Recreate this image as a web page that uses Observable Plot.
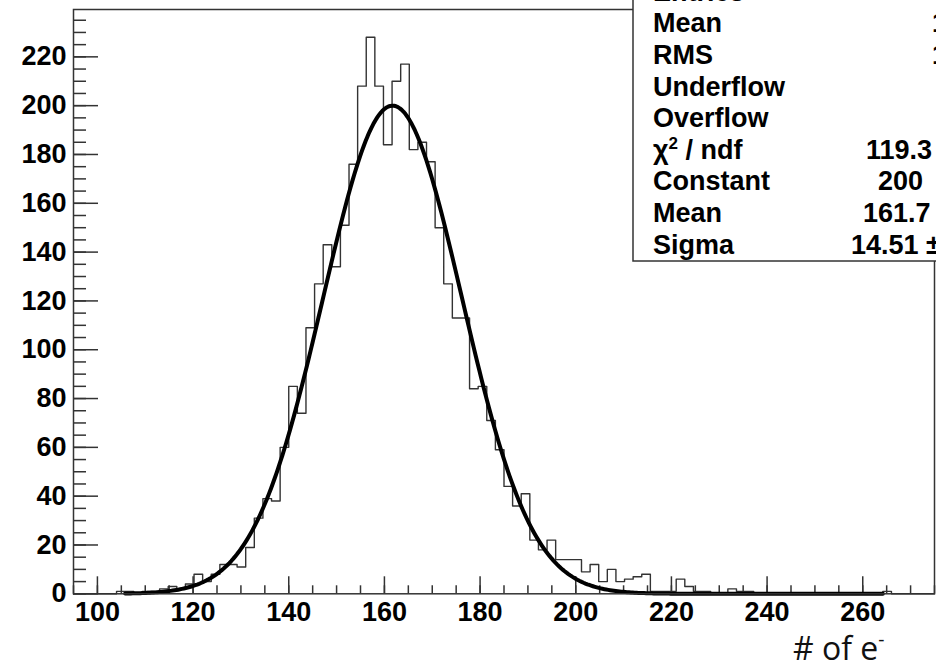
<!DOCTYPE html>
<html>
<head>
<meta charset="utf-8">
<script src="https://cdn.jsdelivr.net/npm/d3@7"></script>
<script src="https://cdn.jsdelivr.net/npm/@observablehq/plot@0.6"></script>
<style>
  body { margin: 0; background: #fff; }
  #wrap { position: relative; width: 936px; height: 667px; overflow: hidden; background: #fff; }
  #wrap svg { position: absolute; left: 0; top: 0; }
  #xtitle { position: absolute; left: 793px; top: 634px; font-family: "Open Sans", sans-serif; font-size: 32px; line-height: 28px; color: #111; white-space: nowrap; }
  #xtitle sup { font-size: 60%; vertical-align: 0.75em; line-height: 0; }
</style>
</head>
<body>
<div id="wrap"></div>
<script>
// ---- histogram definition (ROOT TH1: 100 bins from 95 to 275) ----
const histMin = 95;
const histMax = 275;
const binWidth = 1.8;
const counts = [
  0, 0, 0, 0, 0, 1, 1, 0, 1, 1,
  2, 3, 2, 4, 8, 5, 8, 12, 12, 11,
  19, 31, 39, 38, 60, 85, 74, 109, 127, 143,
  134, 151, 176, 208, 228, 208, 184, 210, 217, 182,
  185, 177, 150, 127, 113, 113, 84, 85, 71, 59,
  44, 36, 41, 22, 18, 22, 14, 14, 14, 9,
  12, 5, 10, 5, 6, 7, 8, 1, 1, 1,
  6, 3, 1, 1, 0, 0, 2, 1, 1, 0,
  0, 0, 0, 0, 0, 0, 0, 0, 0, 0,
  0, 0, 0, 0, 1, 0, 0, 0, 0, 0
];
const yMax = 239.4;

// ---- Gaussian fit parameters (from stats box) ----
const fitConstant = 200;
const fitMean = 161.7;
const fitSigma = 14.51;
const fitRange = [105.8, 264.2];

// ---- axis ticks ----
const xMajor = [100, 120, 140, 160, 180, 200, 220, 240, 260];
const xMinor = d3.range(95, 276, 5);
const yMajor = [0, 20, 40, 60, 80, 100, 120, 140, 160, 180, 200, 220];
const yMinor = d3.range(0, 240, 5);

// ---- stats box text ----
const statLabels = ["Entries", "Mean", "RMS", "Underflow", "Overflow", "χ² / ndf", "Constant", "Mean", "Sigma"];
const statValues = ["", "1", "1", "", "", "119.3", "200", "161.7", "14.51 ±"];

// build the step outline points at bin edges
const histPts = counts.map((c, i) => ({x: histMin + i * binWidth, y: c}));
histPts.push({x: histMin + counts.length * binWidth, y: counts[counts.length - 1]});

// fit curve samples
const nS = 400;
const fitPts = d3.range(nS + 1).map(i => {
  const x = fitRange[0] + (fitRange[1] - fitRange[0]) * i / nS;
  return {x, y: fitConstant * Math.exp(-0.5 * ((x - fitMean) / fitSigma) ** 2)};
});

const ink = "#333";
const chart = Plot.plot({
  width: 936,
  height: 667,
  marginLeft: 73,
  marginRight: 2,
  marginTop: 9,
  marginBottom: 73.7,
  style: {fontFamily: "'Liberation Sans', Arial, sans-serif", fontSize: "27px", fontWeight: "bold", color: "#000", background: "transparent"},
  x: {domain: [histMin, histMax], label: null},
  y: {domain: [0, yMax], label: null},
  marks: [
    Plot.axisY(yMinor, {tickSize: -13, text: null, stroke: ink, strokeWidth: 1.5, label: null}),
    Plot.axisY(yMajor, {tickSize: -25, text: null, stroke: ink, strokeWidth: 1.5, label: null}),
    Plot.axisY(yMajor, {tickSize: 0, tickPadding: 7, fill: "#000", fontWeight: "bold", fontSize: 27, label: null}),
    Plot.axisX(xMinor, {tickSize: -8, text: null, stroke: ink, strokeWidth: 1.5, label: null}),
    Plot.axisX(xMajor, {tickSize: -17, text: null, stroke: ink, strokeWidth: 1.5, label: null}),
    Plot.axisX(xMajor, {tickSize: 0, tickPadding: 8, fill: "#000", fontWeight: "bold", fontSize: 27, label: null}),
    Plot.line(histPts, {x: "x", y: "y", curve: "step-after", stroke: ink, strokeWidth: 1.4}),
    Plot.line(fitPts, {x: "x", y: "y", stroke: "#000", strokeWidth: 4}),
    Plot.frame({stroke: ink, strokeWidth: 1.5})
  ]
});
document.getElementById("wrap").appendChild(chart);

// stats box overlay
const ov = d3.select("#wrap").append("svg").attr("width", 936).attr("height", 667);
ov.append("rect").attr("x", 633).attr("y", -20).attr("width", 400).attr("height", 281)
  .attr("fill", "#fff").attr("stroke", ink).attr("stroke-width", 1.5);
const valueX = [932, 932, 932, 0, 0, 866, 878, 863, 851];
statLabels.forEach((lab, i) => {
  const base = 0.7 + i * 31.6;
  const t = ov.append("text").attr("x", 653).attr("y", base)
    .attr("font-family", "'Liberation Sans', Arial, sans-serif").attr("font-weight", "bold").attr("font-size", 27).attr("fill", "#000");
  if (lab.startsWith("χ²")) {
    t.append("tspan").text("χ");
    t.append("tspan").attr("font-size", 17).attr("dy", -10).text("2");
    t.append("tspan").attr("dy", 10).text(" / ndf");
  } else t.text(lab);
  if (statValues[i]) {
    ov.append("text").attr("x", valueX[i]).attr("y", base)
      .attr("font-family", "'Liberation Sans', Arial, sans-serif").attr("font-weight", "bold").attr("font-size", 27).attr("fill", "#000")
      .text(statValues[i]);
  }
});

const xt = document.createElement("div");
xt.id = "xtitle";
xt.innerHTML = "# of e<sup>-</sup>";
document.getElementById("wrap").appendChild(xt);
</script>
</body>
</html>
